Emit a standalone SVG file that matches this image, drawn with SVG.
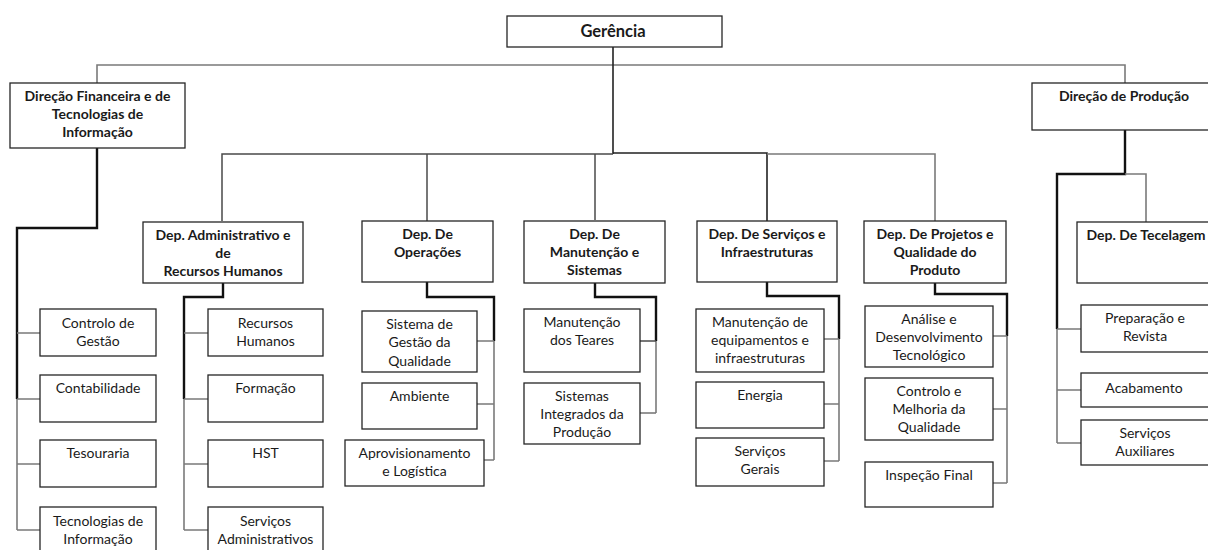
<svg xmlns="http://www.w3.org/2000/svg" width="1208" height="550" viewBox="0 0 1208 550">
  <style>
    .box { fill: #ffffff; stroke: #262626; stroke-width: 1.3; }
    .t { font-family: Lato, "Liberation Sans", sans-serif; font-size: 14px; fill: #1a1a1a; text-anchor: middle; }
    .b { font-weight: bold; font-size: 14px; }
    .g { font-size: 16.5px; }
    .lead { fill: none; stroke: #111111; stroke-width: 2.4; stroke-linejoin: miter; }
    .main { fill: none; stroke: #222222; stroke-width: 1.6; }
    .mid { fill: none; stroke: #4a4a4a; stroke-width: 1.5; }
    .thin { fill: none; stroke: #7a7a7a; stroke-width: 1.6; }
  </style>
  <rect width="1208" height="550" fill="#ffffff"/>

  <!-- connectors -->
  <g id="connectors">
    <!-- top level -->
    <path class="thin" d="M97,83 V65 H1125 V83"/>
    <path class="main" d="M613,47 V154"/>
    <!-- departments under Gerência -->
    <path class="mid" d="M222,221 V154 H613"/>
    <path class="mid" d="M427,221 V154"/>
    <path class="mid" d="M595,220 V154"/>
    <path class="main" d="M613,153 H767 V221"/>
    <path class="thin" d="M767,154 H935 V221"/>

    <!-- Direção Financeira -->
    <path class="lead" d="M97,148 V228 H17 V399"/>
    <path class="thin" d="M17,399 V530"/>
    <path class="thin" d="M17,333 H40 M17,399 H40 M17,464 H40 M17,530 H40"/>

    <!-- Dep. Administrativo -->
    <path class="lead" d="M223,283 V297 H184 V399"/>
    <path class="thin" d="M184,399 V530"/>
    <path class="thin" d="M184,333 H208 M184,399 H208 M184,464 H208 M184,530 H208"/>

    <!-- Dep. De Operações -->
    <path class="lead" d="M427,282 V297 H494 V341"/>
    <path class="thin" d="M494,341 V460"/>
    <path class="thin" d="M477,341 H494 M477,404 H494 M484,460 H494"/>

    <!-- Dep. De Manutenção -->
    <path class="lead" d="M595,283 V297 H656 V341"/>
    <path class="thin" d="M656,341 V413"/>
    <path class="mid" d="M640,341 H656"/>
    <path class="thin" d="M640,413 H656"/>

    <!-- Dep. De Serviços -->
    <path class="lead" d="M767,282 V296 H839 V339"/>
    <path class="thin" d="M839,339 V461"/>
    <path class="thin" d="M824,339 H839 M824,404 H839 M824,461 H839"/>

    <!-- Dep. De Projetos -->
    <path class="lead" d="M935,283 V294 H1007 V336"/>
    <path class="thin" d="M1007,336 V483"/>
    <path class="thin" d="M993,336 H1007 M993,409 H1007 M993,483 H1007"/>

    <!-- Direção de Produção -->
    <path class="lead" d="M1125,130 V174 H1057 V329"/>
    <path class="thin" d="M1057,329 V443"/>
    <path class="thin" d="M1125,174 H1146 V222"/>
    <path class="thin" d="M1057,329 H1081 M1057,390 H1081 M1057,443 H1081"/>
  </g>

  <!-- top management -->
  <g id="gerencia">
    <rect class="box" x="507" y="16" width="215" height="31"/>
    <text class="t b g" x="613" y="37">Gerência</text>
  </g>

  <!-- directorates -->
  <g id="dir-financeira">
    <rect class="box" x="10" y="83" width="175" height="65"/>
    <text class="t b" x="97.5" y="101">Direção Financeira e de</text>
    <text class="t b" x="97.5" y="119">Tecnologias de</text>
    <text class="t b" x="97.5" y="137">Informação</text>
  </g>
  <g id="dir-producao">
    <rect class="box" x="1032" y="83" width="184" height="47"/>
    <text class="t b" x="1124" y="101">Direção de Produção</text>
  </g>

  <!-- departments -->
  <g id="dep-administrativo">
    <rect class="box" x="143" y="222" width="160" height="61"/>
    <text class="t b" x="223" y="240">Dep. Administrativo e</text>
    <text class="t b" x="223" y="258">de</text>
    <text class="t b" x="223" y="276">Recursos Humanos</text>
  </g>
  <g id="dep-operacoes">
    <rect class="box" x="362" y="221" width="131" height="61"/>
    <text class="t b" x="427.5" y="239">Dep. De</text>
    <text class="t b" x="427.5" y="257">Operações</text>
  </g>
  <g id="dep-manutencao">
    <rect class="box" x="524" y="221" width="141" height="62"/>
    <text class="t b" x="594.5" y="239">Dep. De</text>
    <text class="t b" x="594.5" y="257">Manutenção e</text>
    <text class="t b" x="594.5" y="275">Sistemas</text>
  </g>
  <g id="dep-servicos">
    <rect class="box" x="697" y="221" width="140" height="61"/>
    <text class="t b" x="767" y="239">Dep. De Serviços e</text>
    <text class="t b" x="767" y="257">Infraestruturas</text>
  </g>
  <g id="dep-projetos">
    <rect class="box" x="864" y="221" width="142" height="62"/>
    <text class="t b" x="935" y="239">Dep. De Projetos e</text>
    <text class="t b" x="935" y="257">Qualidade do</text>
    <text class="t b" x="935" y="275">Produto</text>
  </g>
  <g id="dep-tecelagem">
    <rect class="box" x="1077" y="222" width="138" height="61"/>
    <text class="t b" x="1146" y="240">Dep. De Tecelagem</text>
  </g>

  <!-- units: Direção Financeira -->
  <g id="controlo-gestao">
    <rect class="box" x="40" y="309" width="116" height="47"/>
    <text class="t" x="98" y="328">Controlo de</text>
    <text class="t" x="98" y="346">Gestão</text>
  </g>
  <g id="contabilidade">
    <rect class="box" x="40" y="375" width="116" height="47"/>
    <text class="t" x="98" y="393">Contabilidade</text>
  </g>
  <g id="tesouraria">
    <rect class="box" x="40" y="440" width="116" height="47"/>
    <text class="t" x="98" y="458">Tesouraria</text>
  </g>
  <g id="tecnologias-informacao">
    <rect class="box" x="40" y="507" width="116" height="50"/>
    <text class="t" x="98" y="526">Tecnologias de</text>
    <text class="t" x="98" y="544">Informação</text>
  </g>

  <!-- units: Dep. Administrativo -->
  <g id="recursos-humanos">
    <rect class="box" x="208" y="309" width="115" height="47"/>
    <text class="t" x="265.5" y="328">Recursos</text>
    <text class="t" x="265.5" y="346">Humanos</text>
  </g>
  <g id="formacao">
    <rect class="box" x="208" y="375" width="115" height="47"/>
    <text class="t" x="265.5" y="393">Formação</text>
  </g>
  <g id="hst">
    <rect class="box" x="208" y="440" width="115" height="47"/>
    <text class="t" x="265.5" y="458">HST</text>
  </g>
  <g id="servicos-administrativos">
    <rect class="box" x="208" y="507" width="115" height="50"/>
    <text class="t" x="265.5" y="526">Serviços</text>
    <text class="t" x="265.5" y="544">Administrativos</text>
  </g>

  <!-- units: Dep. De Operações -->
  <g id="sistema-gestao-qualidade">
    <rect class="box" x="362" y="311" width="115" height="61"/>
    <text class="t" x="419.5" y="329">Sistema de</text>
    <text class="t" x="419.5" y="347">Gestão da</text>
    <text class="t" x="419.5" y="366">Qualidade</text>
  </g>
  <g id="ambiente">
    <rect class="box" x="362" y="383" width="115" height="46"/>
    <text class="t" x="419.5" y="401">Ambiente</text>
  </g>
  <g id="aprovisionamento">
    <rect class="box" x="345" y="440" width="139" height="46"/>
    <text class="t" x="414.5" y="458">Aprovisionamento</text>
    <text class="t" x="414.5" y="476">e Logística</text>
  </g>

  <!-- units: Dep. De Manutenção -->
  <g id="manutencao-teares">
    <rect class="box" x="524" y="309" width="116" height="63"/>
    <text class="t" x="582" y="327">Manutenção</text>
    <text class="t" x="582" y="345">dos Teares</text>
  </g>
  <g id="sistemas-integrados">
    <rect class="box" x="524" y="383" width="116" height="61"/>
    <text class="t" x="582" y="401">Sistemas</text>
    <text class="t" x="582" y="419">Integrados da</text>
    <text class="t" x="582" y="437">Produção</text>
  </g>

  <!-- units: Dep. De Serviços -->
  <g id="manutencao-equipamentos">
    <rect class="box" x="696" y="309" width="128" height="63"/>
    <text class="t" x="760" y="327">Manutenção de</text>
    <text class="t" x="760" y="345">equipamentos e</text>
    <text class="t" x="760" y="363">infraestruturas</text>
  </g>
  <g id="energia">
    <rect class="box" x="696" y="382" width="128" height="46"/>
    <text class="t" x="760" y="400">Energia</text>
  </g>
  <g id="servicos-gerais">
    <rect class="box" x="696" y="438" width="128" height="48"/>
    <text class="t" x="760" y="456">Serviços</text>
    <text class="t" x="760" y="474">Gerais</text>
  </g>

  <!-- units: Dep. De Projetos -->
  <g id="analise-desenvolvimento">
    <rect class="box" x="865" y="306" width="128" height="61"/>
    <text class="t" x="929" y="324">Análise e</text>
    <text class="t" x="929" y="342">Desenvolvimento</text>
    <text class="t" x="929" y="360">Tecnológico</text>
  </g>
  <g id="controlo-melhoria">
    <rect class="box" x="865" y="378" width="128" height="62"/>
    <text class="t" x="929" y="396">Controlo e</text>
    <text class="t" x="929" y="414">Melhoria da</text>
    <text class="t" x="929" y="432">Qualidade</text>
  </g>
  <g id="inspecao-final">
    <rect class="box" x="865" y="462" width="128" height="45"/>
    <text class="t" x="929" y="480">Inspeção Final</text>
  </g>

  <!-- units: Dep. De Tecelagem -->
  <g id="preparacao-revista">
    <rect class="box" x="1081" y="305" width="136" height="47"/>
    <text class="t" x="1145" y="323">Preparação e</text>
    <text class="t" x="1145" y="341">Revista</text>
  </g>
  <g id="acabamento">
    <rect class="box" x="1081" y="373" width="136" height="34"/>
    <text class="t" x="1144" y="393">Acabamento</text>
  </g>
  <g id="servicos-auxiliares">
    <rect class="box" x="1081" y="420" width="136" height="45"/>
    <text class="t" x="1145" y="438">Serviços</text>
    <text class="t" x="1145" y="456">Auxiliares</text>
  </g>
</svg>
